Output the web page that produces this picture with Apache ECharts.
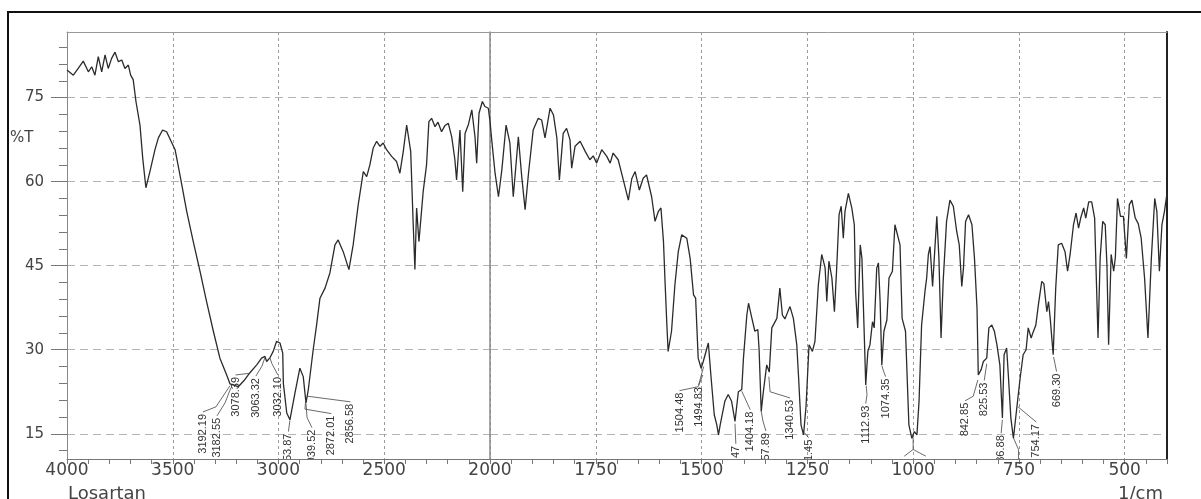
<!DOCTYPE html>
<html>
<head>
    <meta charset="utf-8"/>
    <title>Losartan IR</title>
    <script type="text/javascript" src="https://cdn.jsdelivr.net/npm/echarts@6/dist/echarts.min.js"></script>
    <style>
        html, body {
            margin: 0;
            padding: 0;
            background: #fff;
        }

        #chart {
            width: 1201px;
            height: 499px;
        }
    </style>
</head>
<body>
<div id="chart"></div>

<script type="text/javascript">
    // spectrum: wavenumber (1/cm) and transmittance (%T)
    let wavenumber = [
        4000, 3970, 3947, 3923, 3899, 3883, 3868, 3852, 3836, 3820, 3805, 3789, 3773, 3757, 3741, 3726,
        3710, 3699, 3687, 3674, 3655, 3642, 3627, 3608, 3584, 3568, 3548, 3529, 3489, 3466, 3434, 3403,
        3371, 3340, 3308, 3277, 3245, 3229, 3205, 3190, 3163, 3135, 3103, 3080, 3064, 3056, 3040, 3025,
        3009, 2993, 2980, 2977, 2961, 2946, 2922, 2899, 2883, 2870, 2859, 2836, 2820, 2804, 2780, 2757,
        2733, 2718, 2694, 2667, 2647, 2623, 2599, 2583, 2568, 2552, 2536, 2520, 2505, 2489, 2465, 2442,
        2426, 2410, 2394, 2387, 2375, 2363, 2355, 2347, 2336, 2327, 2316, 2300, 2289, 2276, 2260, 2246,
        2229, 2213, 2197, 2181, 2166, 2158, 2142, 2129, 2118, 2102, 2086, 2071, 2063, 2052, 2036, 2024,
        2008, 2000, 1996, 1988, 1980, 1972, 1962, 1953, 1945, 1933, 1925, 1917, 1909, 1898, 1886, 1878,
        1870, 1858, 1850, 1842, 1836, 1827, 1819, 1811, 1807, 1799, 1787, 1775, 1764, 1756, 1748, 1736,
        1724, 1716, 1709, 1697, 1685, 1673, 1665, 1657, 1647, 1638, 1630, 1618, 1610, 1602, 1596, 1590,
        1586, 1582, 1579, 1571, 1563, 1555, 1547, 1535, 1527, 1519, 1514, 1508, 1501, 1496, 1484, 1478,
        1470, 1464, 1460, 1456, 1445, 1437, 1429, 1421, 1413, 1405, 1401, 1393, 1389, 1381, 1374, 1367,
        1364, 1359, 1354, 1346, 1340, 1334, 1322, 1315, 1309, 1303, 1296, 1291, 1283, 1275, 1271, 1265,
        1259, 1253, 1246, 1238, 1232, 1224, 1216, 1208, 1204, 1199, 1192, 1186, 1181, 1175, 1170, 1165,
        1161, 1153, 1145, 1139, 1136, 1131, 1125, 1121, 1115, 1112, 1107, 1102, 1096, 1092, 1086, 1082,
        1078, 1074, 1069, 1062, 1057, 1049, 1043, 1039, 1031, 1026, 1018, 1010, 1003, 997, 991, 986,
        980, 972, 968, 964, 960, 954, 950, 944, 939, 934, 929, 921, 913, 905, 897, 891,
        885, 881, 876, 869, 861, 855, 849, 846, 839, 834, 826, 821, 814, 808, 802, 795,
        789, 785, 779, 775, 769, 763, 755, 747, 740, 733, 728, 721, 717, 710, 704, 696,
        691, 684, 680, 676, 669, 663, 657, 649, 641, 635, 629, 621, 615, 609, 604, 597,
        592, 585, 578, 571, 568, 563, 558, 552, 546, 542, 538, 532, 526, 522, 517, 510,
        503, 496, 489, 483, 475, 468, 461, 453, 445, 437, 429, 424, 418, 412, 406, 400
    ];
    let transmittance = [
        79.9, 79.0, 80.2, 81.5, 79.6, 80.5, 79.0, 82.3, 79.6, 82.6, 80.2, 82.0, 83.1, 81.4, 81.7, 80.2,
        80.8, 79.0, 78.2, 74.3, 70.1, 64.2, 58.9, 61.8, 65.7, 67.8, 69.2, 68.9, 65.7, 61.2, 54.7, 49.3,
        44.0, 38.6, 33.3, 28.5, 25.5, 23.9, 23.6, 23.4, 24.5, 25.9, 27.3, 28.5, 28.8, 27.9, 28.6, 29.7,
        31.5, 31.2, 29.4, 24.0, 18.7, 17.5, 22.3, 26.7, 25.2, 20.5, 22.9, 30.0, 34.4, 39.2, 41.0, 43.7,
        48.7, 49.6, 47.5, 44.3, 48.7, 55.9, 61.8, 60.9, 63.0, 66.0, 67.2, 66.3, 66.9, 65.7, 64.5, 63.6,
        61.5, 65.4, 70.1, 70.4, 65.4, 52.3, 44.3, 55.3, 49.3, 49.1, 58.2, 63.0, 70.7, 71.3, 69.8, 70.6,
        68.9, 70.0, 70.4, 68.0, 63.9, 60.3, 69.2, 58.2, 68.6, 70.2, 72.8, 68.0, 63.3, 72.2, 74.3, 73.4,
        73.1, 70.8, 67.5, 61.5, 57.3, 62.1, 70.1, 66.9, 57.3, 68.0, 60.9, 55.0, 61.5, 69.2, 71.3, 71.0,
        67.8, 73.1, 71.9, 67.8, 60.3, 68.6, 69.5, 67.5, 62.4, 66.3, 67.2, 65.4, 63.9, 64.6, 63.3, 65.7,
        64.5, 63.3, 65.1, 63.9, 60.3, 56.7, 60.5, 61.8, 58.5, 60.6, 61.2, 57.3, 52.9, 54.7, 55.3, 49.3,
        41.6, 34.4, 29.7, 33.3, 41.6, 47.5, 50.5, 49.9, 46.3, 39.8, 39.2, 28.5, 26.7, 27.9, 31.2, 25.5,
        18.4, 16.6, 14.8, 16.6, 20.8, 22.0, 20.8, 17.2, 22.5, 22.9, 28.5, 36.2, 38.3, 35.6, 33.3, 33.6,
        30.0, 19.0, 22.5, 27.3, 26.0, 33.9, 35.6, 41.0, 36.2, 35.5, 36.8, 37.7, 35.6, 30.9, 25.5, 16.6,
        14.8, 20.0, 30.9, 29.7, 31.5, 41.6, 47.0, 44.6, 38.6, 45.8, 42.8, 36.8, 44.0, 54.1, 55.6, 49.9,
        54.7, 57.9, 55.3, 52.3, 40.4, 33.9, 48.7, 46.3, 31.5, 23.7, 29.7, 30.9, 35.0, 33.9, 44.6, 45.5,
        38.6, 27.3, 33.3, 35.3, 42.8, 44.0, 52.3, 52.6, 48.7, 35.6, 33.3, 16.6, 14.2, 15.4, 14.8, 20.8,
        34.4, 40.4, 42.8, 47.0, 48.4, 41.3, 46.3, 53.8, 46.3, 32.1, 42.2, 52.9, 56.7, 55.6, 51.1, 48.7,
        41.3, 44.6, 52.9, 54.1, 52.3, 46.3, 37.4, 25.5, 26.5, 27.9, 28.5, 33.9, 34.4, 33.3, 30.9, 27.3,
        17.8, 29.1, 30.3, 25.5, 17.8, 14.2, 19.6, 25.0, 29.1, 30.0, 33.9, 32.1, 33.0, 34.4, 38.0, 42.2,
        41.8, 36.8, 38.6, 35.6, 29.1, 41.0, 48.7, 49.0, 47.5, 44.0, 47.0, 52.3, 54.4, 51.7, 53.5, 55.3,
        53.5, 56.4, 56.4, 53.5, 45.2, 32.1, 46.3, 52.9, 52.3, 45.2, 30.9, 47.0, 44.0, 46.5, 57.0, 53.8,
        53.8, 46.3, 55.9, 56.7, 53.5, 52.5, 49.9, 42.8, 32.1, 46.3, 57.0, 54.7, 44.0, 52.3, 54.7, 57.9
    ];

    let yLabelValues = [15, 30, 45, 60, 75];
    let yMinorTicks = [12, 15, 18, 21, 24, 27, 30, 33, 36, 39, 42, 45, 48, 51, 54, 57, 60, 63, 66, 69, 72, 75, 78, 81, 84];
    let xGridRight = [500, 750, 1000, 1250, 1500, 1750];

    // peak picks: text, where the top of the text sits [1/cm, %T], leader line
    let peakLabels = [
        '3192.19', '3182.55', '3078.39', '3063.32', '3032.10', '2953.87', '2939.52', '2872.01', '2856.58',
        '1504.48', '1494.83', '1419.47', '1404.18', '1357.89', '1340.53', '1261.45', '1112.93', '1074.35',
        '842.85', '825.53', '786.88', '754.17', '669.30'
    ];
    let peakLabelPos = [
        [3357, 18.9], [3291, 18.2], [3203, 25.5], [3107, 25.3], [3003, 25.5], [2953, 15.4], [2842, 16.1],
        [2750, 18.6], [2660, 20.7],
        [1552, 22.7], [1507, 23.7], [1419, 13.2], [1385, 19.3], [1348, 15.5], [1291, 21.4], [1247, 14.3],
        [1112, 20.4], [1065, 25.2], [877, 20.9], [832, 24.5], [792, 15.1], [709, 17.1], [661, 26.1]
    ];
    let leaderPaths = [
        [[3357, 18.9], [3296, 19.8], [3229, 23.6]],
        [[3291, 18.2], [3253, 20.5], [3225, 23.2]],
        [[3203, 25.5], [3135, 25.8]],
        [[3107, 25.3], [3078, 27.1], [3064, 28.6]],
        [[3003, 25.5], [3031, 27.5], [3040, 28.5]],
        [[2953, 15.4], [2946, 17.4]],
        [[2842, 16.1], [2865, 17.9], [2870, 20.4]],
        [[2750, 18.6], [2875, 19.4], [2872, 20.8]],
        [[2660, 20.7], [2862, 21.7]],
        [[1552, 22.7], [1508, 23.4], [1497, 25.5]],
        [[1507, 23.7], [1495, 27.0]],
        [[1419, 13.2], [1421, 16.8]],
        [[1385, 19.3], [1405, 22.6]],
        [[1348, 15.5], [1355, 17.3], [1359, 19.0]],
        [[1291, 21.4], [1338, 22.5], [1341, 25.2]],
        [[1247, 14.3], [1257, 15.2]],
        [[1112, 20.4], [1109, 22.0], [1111, 23.6]],
        [[1065, 25.2], [1070, 26.2], [1074, 27.2]],
        [[877, 20.9], [858, 21.7], [847, 24.6]],
        [[832, 24.5], [826, 27.5]],
        [[792, 15.1], [789, 17.5]],
        [[709, 17.1], [752, 19.8]],
        [[661, 26.1], [668, 28.7]],
        [[1000, 14.4], [1000, 12.2], [1021, 11.0]],
        [[1000, 12.2], [970, 11.0]],
        [[763, 14.3], [751, 12.2], [751, 10.0]]
    ];

    let spectrum = wavenumber.map((w, i) => [w, transmittance[i]]);
    let leftPart = spectrum.filter(p => p[0] >= 2000);
    let rightPart = spectrum.filter(p => p[0] <= 2000);

    let labelItems = peakLabelPos.map((p, i) => [p[0], p[1], i]);
    let leaderItems = leaderPaths.map((path, i) => [path[0][0], path[0][1], i]);

    let axisFont = '"DejaVu Sans", sans-serif';
    let gridDash = {type: [8, 5], color: '#b4b4b4', width: 1};
    let vDash = {type: [3, 3], color: '#9a9a9a', width: 1};

    function renderLabel(params, api) {
        let p = api.coord([api.value(0), api.value(1)]);
        return {
            type: 'text',
            x: p[0],
            y: p[1],
            rotation: Math.PI / 2,
            style: {
                text: peakLabels[api.value(2)],
                x: -2,
                y: 0,
                align: 'right',
                verticalAlign: 'middle',
                fill: '#333',
                font: '11px "Liberation Sans", sans-serif'
            }
        };
    }

    function renderLeader(params, api) {
        let path = leaderPaths[api.value(2)];
        return {
            type: 'polyline',
            shape: {points: path.map(pt => api.coord(pt))},
            style: {stroke: '#444', lineWidth: 0.8, fill: null}
        };
    }

    function bottomAxis(gridIndex, min, max, interval, labelEvery, skip) {
        return {
            type: 'value', gridIndex: gridIndex, position: 'bottom',
            min: min, max: max, interval: interval, inverse: true,
            axisLine: {lineStyle: {color: '#777', width: 1}},
            axisTick: {length: 5, lineStyle: {color: '#777'}},
            axisLabel: {
                margin: 3, fontSize: 17, fontFamily: axisFont, color: '#444',
                formatter: v => (v % labelEvery === 0 && v !== skip) ? String(v) : ''
            },
            splitLine: {show: false}
        };
    }

    let chart = echarts.init(document.getElementById('chart'));
    chart.setOption({
        animation: false,
        backgroundColor: '#fff',
        grid: [
            {left: 67, top: 32, width: 423, height: 427},
            {left: 490, top: 32, width: 677, height: 427}
        ],
        xAxis: [
            bottomAxis(0, 2000, 4000, 100, 500, 2000),
            {
                type: 'value', gridIndex: 0, position: 'top',
                min: 2000, max: 4000, interval: 500, inverse: true,
                axisLine: {lineStyle: {color: '#999', width: 1}},
                axisTick: {show: false},
                axisLabel: {show: false},
                splitLine: {show: true, lineStyle: vDash}
            },
            bottomAxis(1, 400, 2000, 50, 250, -1),
            {
                type: 'value', gridIndex: 1, position: 'top',
                min: 400, max: 2000, inverse: true,
                axisLine: {lineStyle: {color: '#999', width: 1}},
                axisTick: {show: false, customValues: xGridRight},
                axisLabel: {show: false},
                splitLine: {show: true, lineStyle: vDash}
            }
        ],
        yAxis: [
            {
                type: 'value', gridIndex: 0, position: 'left', min: 10.5, max: 86.7,
                axisLine: {show: true, lineStyle: {color: '#888'}},
                axisTick: {show: true, length: 8, customValues: yMinorTicks, lineStyle: {color: '#777'}},
                axisLabel: {customValues: yLabelValues, margin: 23, fontSize: 15, fontFamily: axisFont, color: '#444'},
                splitLine: {show: false}
            },
            {
                type: 'value', gridIndex: 0, position: 'left', min: 10.5, max: 86.7,
                axisLine: {show: false},
                axisTick: {show: true, length: 16, customValues: yLabelValues, lineStyle: {color: '#777'}},
                axisLabel: {show: false},
                splitLine: {show: true, lineStyle: gridDash}
            },
            {
                type: 'value', gridIndex: 1, position: 'left', min: 10.5, max: 86.7,
                axisLine: {show: true, lineStyle: {color: '#888', width: 1.5}},
                axisTick: {show: false, customValues: yLabelValues},
                axisLabel: {show: false},
                splitLine: {show: true, lineStyle: gridDash}
            },
            {
                type: 'value', gridIndex: 1, position: 'right', min: 10.5, max: 86.7,
                axisLine: {show: true, lineStyle: {color: '#222', width: 2}},
                axisTick: {show: false},
                axisLabel: {show: false},
                splitLine: {show: false}
            }
        ],
        series: [
            {
                type: 'line', xAxisIndex: 0, yAxisIndex: 0, data: leftPart,
                symbol: 'none', lineStyle: {color: '#2b2b2b', width: 1.3}, z: 3
            },
            {
                type: 'line', xAxisIndex: 2, yAxisIndex: 2, data: rightPart,
                symbol: 'none', lineStyle: {color: '#2b2b2b', width: 1.3}, z: 3
            },
            {
                type: 'custom', xAxisIndex: 0, yAxisIndex: 0, clip: true, z: 4,
                renderItem: renderLeader, data: leaderItems.filter(d => d[0] > 2000)
            },
            {
                type: 'custom', xAxisIndex: 2, yAxisIndex: 2, clip: true, z: 4,
                renderItem: renderLeader, data: leaderItems.filter(d => d[0] <= 2000)
            },
            {
                type: 'custom', xAxisIndex: 0, yAxisIndex: 0, clip: true, z: 4,
                renderItem: renderLabel, data: labelItems.filter(d => d[0] > 2000)
            },
            {
                type: 'custom', xAxisIndex: 2, yAxisIndex: 2, clip: true, z: 4,
                renderItem: renderLabel, data: labelItems.filter(d => d[0] <= 2000)
            }
        ],
        graphic: [
            {
                type: 'rect', left: 7, top: 11, silent: true,
                shape: {width: 1250, height: 560},
                style: {fill: 'transparent', stroke: '#111', lineWidth: 2}
            },
            {
                type: 'text', left: 10, top: 131,
                style: {text: '%T', font: '15px "DejaVu Sans", sans-serif', fill: '#444'}
            },
            {
                type: 'text', left: 68, top: 485,
                style: {text: 'Losartan', font: '18px "DejaVu Sans", sans-serif', fill: '#444'}
            },
            {
                type: 'text', left: 1118, top: 485,
                style: {text: '1/cm', font: '18px "DejaVu Sans", sans-serif', fill: '#444'}
            }
        ]
    });
</script>
</body>
</html>
